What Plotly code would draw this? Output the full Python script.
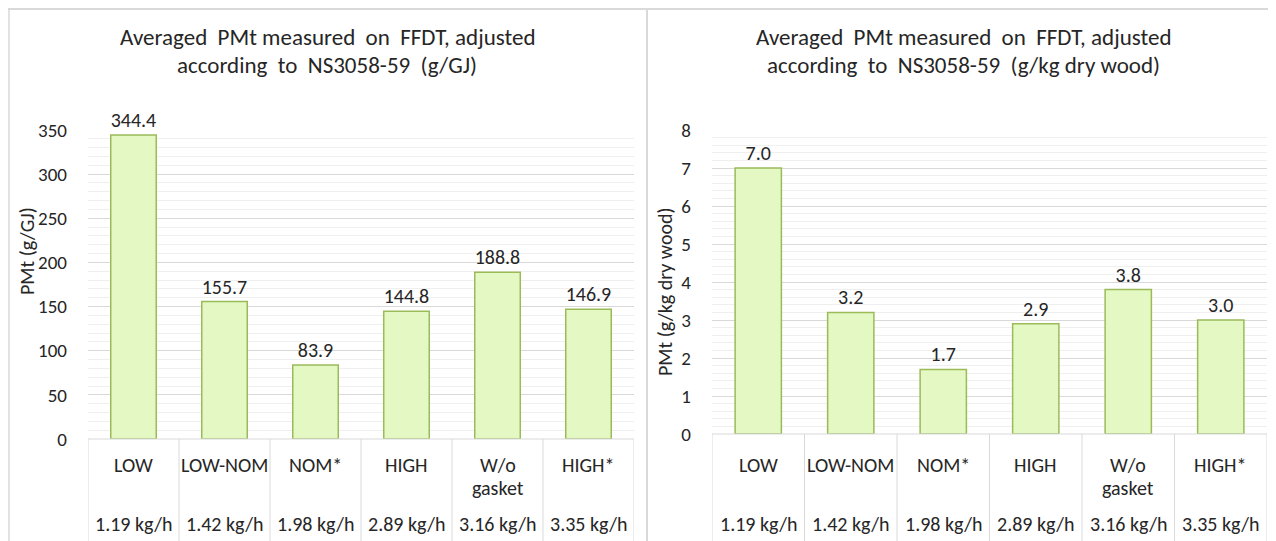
import plotly.graph_objects as go

W, H = 1276, 541

categories = ["LOW", "LOW-NOM", "NOM*", "HIGH", "W/o<br>gasket", "HIGH*"]
flow_rates = ["1.19 kg/h", "1.42 kg/h", "1.98 kg/h", "2.89 kg/h", "3.16 kg/h", "3.35 kg/h"]
pmt_g_per_gj = [344.4, 155.7, 83.9, 144.8, 188.8, 146.9]
pmt_g_per_kg = [7.0, 3.2, 1.7, 2.9, 3.8, 3.0]

title_left = ["Averaged  PMt measured  on  FFDT, adjusted", "according  to  NS3058-59  (g/GJ)"]
title_right = ["Averaged  PMt measured  on  FFDT, adjusted", "according  to  NS3058-59  (g/kg dry wood)"]
ytitle_left = "PMt (g/GJ)"
ytitle_right = "PMt (g/kg dry wood)"

FONT = "Carlito, Lato, sans-serif"
TXT = "#262626"
GRID = "#d9d9d9"
MINOR = "#efefef"
BAR_FILL = "#e3f8c2"
BAR_LINE = "#9bbb59"

OFF = 8  # page body margin


def px(x):
    return (x - OFF) / W


def py(y):
    return 1 - (y - OFF) / H


fig = go.Figure()
xs = list(range(len(categories)))

for vals, xa, ya in [(pmt_g_per_gj, "x", "y"), (pmt_g_per_kg, "x2", "y2")]:
    fig.add_trace(go.Bar(x=xs, y=vals, xaxis=xa, yaxis=ya,
                         marker=dict(color=BAR_FILL, line=dict(color=BAR_LINE, width=1.5)),
                         width=0.5, text=[f"{v:.1f}" for v in vals],
                         textposition="outside", cliponaxis=False,
                         textfont=dict(family=FONT, size=20, color=TXT), showlegend=False))

panels = [
    dict(xa="x", ya="y", x0=88, x1=634, y0=439, y1=130, rng=[0, 350], dt=50, mdt=10,
         title=title_left, tcx=327, yt=ytitle_left, ytx=27, yty=251),
    dict(xa="x2", ya="y2", x0=712, x1=1267, y0=434, y1=130, rng=[0, 8], dt=1, mdt=0.2,
         title=title_right, tcx=963, yt=ytitle_right, ytx=665, yty=292),
]

layout = dict(template="none", width=W, height=H, autosize=False,
              margin=dict(l=0, r=0, t=0, b=0, pad=0, autoexpand=False),
              paper_bgcolor="white", plot_bgcolor="white",
              font=dict(family=FONT, color=TXT), bargap=0.5)
shapes = []
annotations = []
for i, p in enumerate(panels):
    sfx = "" if i == 0 else "2"
    layout["xaxis" + sfx] = dict(domain=[px(p["x0"]), px(p["x1"])], range=[-0.5, len(categories) - 0.5],
                                 showticklabels=False, showgrid=False, zeroline=False,
                                 showline=False, ticks="", anchor=p["ya"], fixedrange=True,
                                 automargin=False)
    layout["yaxis" + sfx] = dict(domain=[py(p["y0"]), py(p["y1"])], range=p["rng"], dtick=p["dt"],
                                 showgrid=True, gridcolor=GRID, gridwidth=1, zeroline=False,
                                 showline=False,
                                 minor=dict(dtick=p["mdt"], showgrid=True, gridcolor=MINOR, gridwidth=1),
                                 tickfont=dict(family=FONT, size=19, color=TXT), ticks="",
                                 ticklabelstandoff=20, anchor=p["xa"], fixedrange=True,
                                 automargin=False)
    for j, line in enumerate(p["title"]):
        annotations.append(dict(text=line, x=px(p["tcx"]), y=py(37 + 28 * j), xref="paper", yref="paper",
                                showarrow=False, font=dict(family=FONT, size=23, color=TXT),
                                xanchor="center", yanchor="middle", align="center"))
    annotations.append(dict(text=p["yt"], x=px(p["ytx"]), y=py(p["yty"]), xref="paper", yref="paper",
                            showarrow=False, textangle=-90, font=dict(family=FONT, size=20, color=TXT),
                            xanchor="center", yanchor="middle"))
    shapes.append(dict(type="line", xref="paper", yref="paper", x0=px(p["x0"]), x1=px(p["x1"]),
                       y0=py(p["y0"]), y1=py(p["y0"]), line=dict(color=GRID, width=1)))
    for k in range(len(categories) + 1):
        shapes.append(dict(type="line", xref=p["xa"], yref="paper", x0=k - 0.5, x1=k - 0.5,
                           y0=py(p["y0"]), y1=py(H + 8), line=dict(color=GRID, width=1)))
    for k, (c, f) in enumerate(zip(categories, flow_rates)):
        for j, part in enumerate(c.split("<br>")):
            annotations.append(dict(text=part, x=k, y=py(465 + 23 * j), xref=p["xa"], yref="paper",
                                    showarrow=False, xanchor="center", yanchor="middle",
                                    font=dict(family=FONT, size=20, color=TXT)))
        annotations.append(dict(text=f, x=k, y=py(524), xref=p["xa"], yref="paper", showarrow=False,
                                xanchor="center", yanchor="middle",
                                font=dict(family=FONT, size=20, color=TXT)))

shapes.append(dict(type="line", xref="paper", yref="paper", x0=px(8), x1=1, y0=py(9), y1=py(9),
                   line=dict(color="#d9d9d9", width=2)))
shapes.append(dict(type="line", xref="paper", yref="paper", x0=px(9), x1=px(9), y0=py(9), y1=0,
                   line=dict(color="#d9d9d9", width=1.5)))
shapes.append(dict(type="line", xref="paper", yref="paper", x0=px(647), x1=px(647), y0=py(9), y1=0,
                   line=dict(color="#d9d9d9", width=2)))

layout["shapes"] = shapes
layout["annotations"] = annotations
fig.update_layout(**layout)
fig.write_html("out.html")
